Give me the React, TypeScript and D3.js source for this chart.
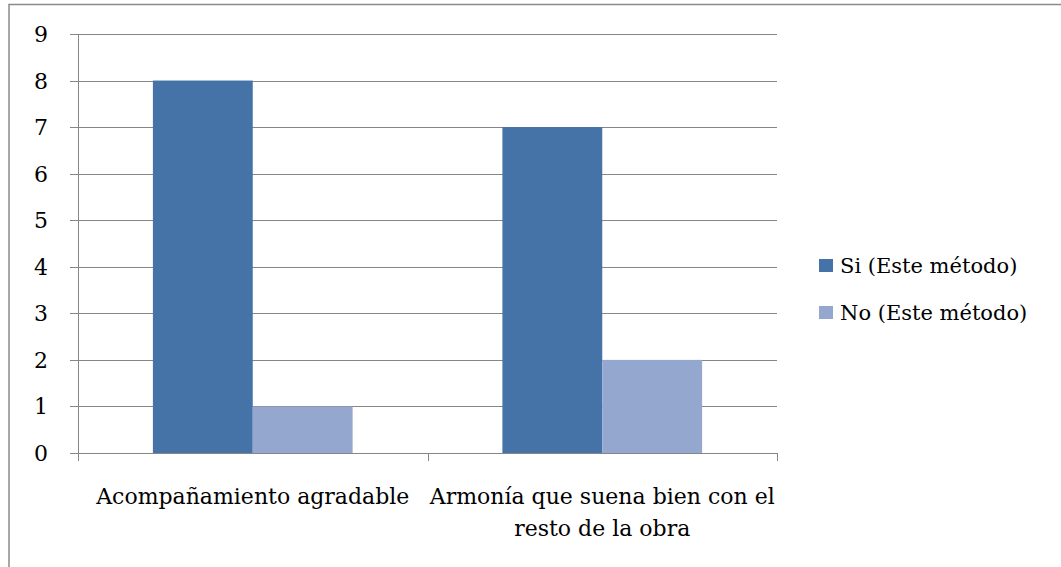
import React from "react";
import * as d3 from "d3";

const categories: string[][] = [
  ["Acompañamiento agradable"],
  ["Armonía que suena bien con el", "resto de la obra"],
];
const categoryKeys = ["c1", "c2"];
const seriesNames = ["Si (Este método)", "No (Este método)"];
const siValues = [8, 7];
const noValues = [1, 2];
const yTicks = [0, 1, 2, 3, 4, 5, 6, 7, 8, 9];
const colors = ["#4572A7", "#94A8CF"];

const FONT = "DejaVu Serif";

export default function App() {
  const W = 1061, H = 567;
  const left = 78, right = 777, top = 34, bottom = 453;
  const y = d3.scaleLinear().domain([0, 9]).range([bottom, top]);
  const x0 = d3.scaleBand<string>().domain(categoryKeys).range([left, right]).padding(0);
  const x1 = d3.scaleBand<string>().domain(seriesNames).range([0, x0.bandwidth()]).paddingOuter(0.75).paddingInner(0);
  const series = [siValues, noValues];
  const grid = "#868686";
  return (
    <svg width={W} height={H} style={{ position: "absolute", left: 0, top: 0 }}>
      <rect x={0} y={0} width={W} height={H} fill="#fff" />
      <rect x={9} y={4.5} width={W + 20} height={H + 20} fill="none" stroke="#8a8a8a" strokeWidth={1.5} />
      {yTicks.map((t) => (
        <g key={t}>
          <line x1={70} x2={right} y1={Math.round(y(t)) + 0.5} y2={Math.round(y(t)) + 0.5} stroke={grid} strokeWidth={1} />
          <text x={48} y={y(t) + 8} textAnchor="end" fontFamily={FONT} fontSize={22} fill="#000">{t}</text>
        </g>
      ))}
      {categoryKeys.map((k, i) =>
        series.map((vals, s) => (
          <rect key={k + s} x={(x0(k) as number) + (x1(seriesNames[s]) as number)} width={x1.bandwidth()}
            y={y(vals[i])} height={y(0) - y(vals[i])} fill={colors[s]} />
        ))
      )}
      <line x1={left + 0.5} x2={left + 0.5} y1={top} y2={bottom + 8} stroke={grid} />
      <line x1={70} x2={right} y1={Math.round(y(0)) + 0.5} y2={Math.round(y(0)) + 0.5} stroke={grid} />
      {[...categoryKeys.map((k) => x0(k) as number), right].map((xv, i) => (
        <line key={i} x1={Math.round(xv) + 0.5} x2={Math.round(xv) + 0.5} y1={bottom} y2={bottom + 8} stroke={grid} />
      ))}
      {categoryKeys.map((k, i) => (
        <text key={k} textAnchor="middle" fontFamily={FONT} fontSize={22} fill="#000">
          {categories[i].map((line, j) => (
            <tspan key={j} x={(x0(k) as number) + x0.bandwidth() / 2} y={504 + j * 32}>{line}</tspan>
          ))}
        </text>
      ))}
      {seriesNames.map((n, s) => (
        <g key={n}>
          <rect x={819} y={259 + s * 47} width={14} height={13} fill={colors[s]} />
          <text x={840} y={273 + s * 47} fontFamily={FONT} fontSize={21} fill="#000">{n}</text>
        </g>
      ))}
    </svg>
  );
}
